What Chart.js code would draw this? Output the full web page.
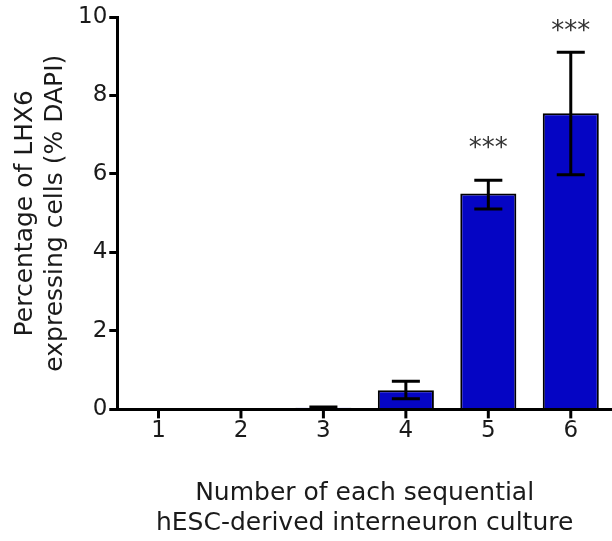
<!DOCTYPE html>
<html>
<head>
<meta charset="utf-8">
<script src="https://cdn.jsdelivr.net/npm/chart.js@4/dist/chart.umd.min.js"></script>
<style>
  body { margin: 0; background: #fff; }
  #wrap { width: 612px; height: 541px; }
</style>
</head>
<body>
<div id="wrap"><canvas id="lhx6Chart" width="612" height="541"></canvas></div>
<script>
const cultures = ["1", "2", "3", "4", "5", "6"];
const meanValues = [0, 0, 0.04, 0.49, 5.5, 7.55];
const errLow = [0, 0, 0.02, 0.27, 5.11, 5.98];
const errHigh = [0, 0, 0.06, 0.72, 5.84, 9.1];
const sigMarks = ["", "", "", "", "***", "***"];
const sigLevel = [null, null, null, null, 6.72, 9.72];
const yTicks = [0, 2, 4, 6, 8, 10];

const FONT = "'DejaVu Sans', Verdana, sans-serif";
const INK = "#1a1a1a";

// error bars, significance stars, and x tick marks at the bar centres
const errorBars = {
  id: "errorBars",
  afterDraw(chart) {
    const { ctx, scales } = chart;
    const meta = chart.getDatasetMeta(0);
    ctx.save();
    ctx.strokeStyle = "#000";
    ctx.lineWidth = 3;
    meta.data.forEach((bar, i) => {
      if (errHigh[i] <= meanValues[i] && errLow[i] >= meanValues[i]) return;
      const x = bar.x;
      const yHi = scales.y.getPixelForValue(errHigh[i]);
      const yLo = scales.y.getPixelForValue(errLow[i]);
      const cap = bar.width / 4;
      ctx.beginPath();
      ctx.moveTo(x, yHi); ctx.lineTo(x, yLo);
      ctx.moveTo(x - cap, yHi); ctx.lineTo(x + cap, yHi);
      ctx.moveTo(x - cap, yLo); ctx.lineTo(x + cap, yLo);
      ctx.stroke();
    });
    const base = scales.y.getPixelForValue(0);
    meta.data.forEach((bar) => {
      ctx.beginPath();
      ctx.moveTo(bar.x, base);
      ctx.lineTo(bar.x, base + 9);
      ctx.stroke();
    });
    ctx.fillStyle = "#333";
    ctx.font = "26px " + FONT;
    ctx.textAlign = "center";
    ctx.textBaseline = "middle";
    meta.data.forEach((bar, i) => {
      if (!sigMarks[i]) return;
      ctx.fillText(sigMarks[i], bar.x, scales.y.getPixelForValue(sigLevel[i]) + 4);
    });
    ctx.restore();
  }
};

new Chart(document.getElementById("lhx6Chart"), {
  type: "bar",
  data: {
    labels: cultures,
    datasets: [{
      data: meanValues,
      backgroundColor: "#0505c4",
      borderColor: "#000",
      borderWidth: 2,
      borderSkipped: "bottom",
      barPercentage: 0.68,
      categoryPercentage: 1.0
    }]
  },
  options: {
    responsive: false,
    animation: false,
    layout: { padding: { top: 17, right: 0, left: 10, bottom: 3 } },
    plugins: { legend: { display: false }, tooltip: { enabled: false } },
    scales: {
      x: {
        grid: { display: false, drawTicks: false },
        border: { display: true, color: "#000", width: 3 },
        ticks: { color: INK, font: { family: FONT, size: 23 }, padding: 8 },
        title: {
          display: true,
          text: ["Number of each sequential", "hESC-derived interneuron culture"],
          color: INK,
          font: { family: FONT, size: 25 },
          padding: { top: 25, bottom: 0 }
        }
      },
      y: {
        min: 0,
        max: 10,
        afterBuildTicks: (axis) => { axis.ticks = yTicks.map(v => ({ value: v })); },
        grid: { display: true, drawOnChartArea: false, color: "#000", lineWidth: 3, tickLength: 8 },
        border: { display: true, color: "#000", width: 3 },
        ticks: { color: INK, font: { family: FONT, size: 23 }, padding: 2 },
        title: {
          display: true,
          text: ["Percentage of LHX6", "expressing cells (% DAPI)"],
          color: INK,
          font: { family: FONT, size: 25 },
          padding: { top: 0, bottom: 6 }
        }
      }
    }
  },
  plugins: [errorBars]
});
</script>
</body>
</html>
